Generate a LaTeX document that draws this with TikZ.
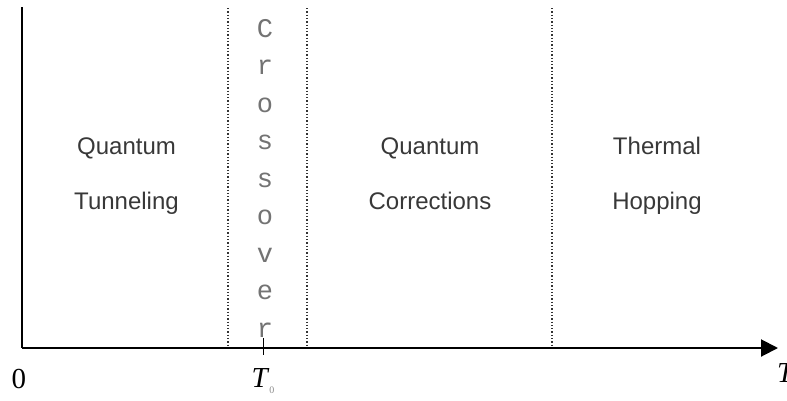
\documentclass[tikz,border=0pt]{standalone}
\usepackage{fontspec}
\setmainfont{Liberation Serif}
\setsansfont{Liberation Sans}
\setmonofont{Liberation Mono}
\usepackage{tikz}
\usetikzlibrary{positioning,arrows.meta}

\begin{document}
\begin{tikzpicture}[x=1pt, y=-1pt, every node/.style={font=\sffamily\fontsize{24}{29}\selectfont, text=black!78, inner sep=0pt},
    region/.style={align=center, anchor=base},
    axislabel/.style={font=\rmfamily\fontsize{29}{29}\selectfont, text=black, anchor=base},
    border/.style={dotted, line width=1.3pt, black!80}]
    \useasboundingbox (0,0) rectangle (787,400);
    \coordinate (o) at (22,348);
    \coordinate (top) at (22,7);
    \coordinate (tip) at (778,348);
    \coordinate (t0a) at (263,338);
    \coordinate (t0b) at (263,355);
    % region borders
    \coordinate (b1) at (228,8);  \coordinate (b1s) at (228,348);
    \coordinate (b2) at (307,8);  \coordinate (b2s) at (307,348);
    \coordinate (b3) at (552,8);  \coordinate (b3s) at (552,348);
    \draw[border] (b1) -- (b1s);
    \draw[border] (b2) -- (b2s);
    \draw[border] (b3) -- (b3s);
    % axes
    \draw[line width=2pt] (top) -- (o);
    \draw[line width=2pt, -{Triangle[length=17pt,width=17pt]}] (o) -- (tip);
    \draw[line width=1pt] (t0a) -- (t0b);
    % regions (base = last line)
    \node[region] (qt) at (126.5,209.5) {Quantum\\[26pt]Tunneling};
    \node[region] (qc) at (430,209.5) {Quantum\\[26pt]Corrections};
    \node[region] (th) at (657,209.5) {Thermal\\[26pt]Hopping};
    \foreach \ch [count=\i from 0] in {C,r,o,s,s,o,v,e,r}
      \node[font=\ttfamily\fontsize{27}{27}\selectfont, text=black!55, anchor=base] (cr\i) at (265,{37+37.5*\i}) {\ch};
    % axis labels
    \node[axislabel] (zero) at (19,388) {0};
    \node[axislabel] (tzero) at (263,387) {\textit{T}\raisebox{-6pt}{\fontsize{10}{10}\selectfont\color{black!45}0}};
    \node[axislabel, anchor=base west] (tend) at (777,382) {\textit{T}};
  \end{tikzpicture}
\end{document}
